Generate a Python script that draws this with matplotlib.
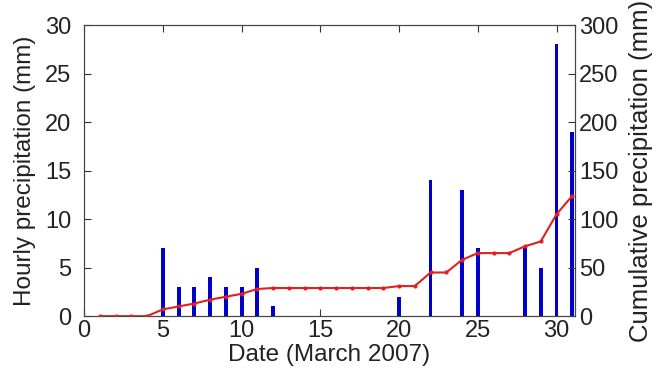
import numpy as np
import matplotlib
matplotlib.use("Agg")
import matplotlib.pyplot as plt

plt.rcParams['font.family'] = ['Liberation Sans', 'DejaVu Sans']

# hourly precipitation bars (day, mm)
bar_days = [5, 6, 7, 8, 9, 10, 11, 12, 20, 22, 24, 25, 28, 29, 30, 31]
bar_mm = [7, 3, 3, 4, 3, 3, 5, 1, 2, 14, 13, 7, 7, 5, 28, 19]

# cumulative precipitation (day 1..31)
cum_days = list(range(1, 32))
cum_mm = [0, 0, 0, 0, 7, 10, 13, 17, 20, 23, 28, 29, 29, 29, 29, 29, 29, 29, 29,
          31, 31, 45, 45, 58, 65, 65, 65, 72, 77, 105, 124]

fs = 17
txt = '#222222'

fig = plt.figure(figsize=(6.62, 3.80), dpi=100)
ax = fig.add_axes([0.127, 0.168, 0.741, 0.766])
ax.bar(bar_days, bar_mm, width=0.25, color='#0000cc', zorder=2)
ax.set_xlim(0, 31.15)
ax.set_ylim(0, 30)
ax.set_xticks(np.arange(0, 31, 5))
ax.set_yticks(np.arange(0, 31, 5))
ax.tick_params(direction='in', labelsize=fs, top=True, length=5, color='#333333',
               labelcolor=txt, pad=3)
ax.tick_params(axis='y', pad=9)
ax.set_xlabel("Date (March 2007)", fontsize=17.5, color=txt, labelpad=1)
ax.set_ylabel("Hourly precipitation (mm)", fontsize=17.5, color=txt, labelpad=7)

ax2 = ax.twinx()
ax2.plot(cum_days, cum_mm, color='#e02020', linewidth=1.5, marker='o', markersize=2, zorder=3)
ax2.set_ylim(0, 300)
ax2.set_yticks(np.arange(0, 301, 50))
ax2.tick_params(direction='in', labelsize=fs, length=5, color='#333333', labelcolor=txt, pad=3)
ax2.set_ylabel("Cumulative precipitation (mm)", fontsize=18.5, color=txt, labelpad=8)

for a in (ax, ax2):
    for s in a.spines.values():
        s.set_color('#444444')

fig.savefig("out.png", dpi=100)
